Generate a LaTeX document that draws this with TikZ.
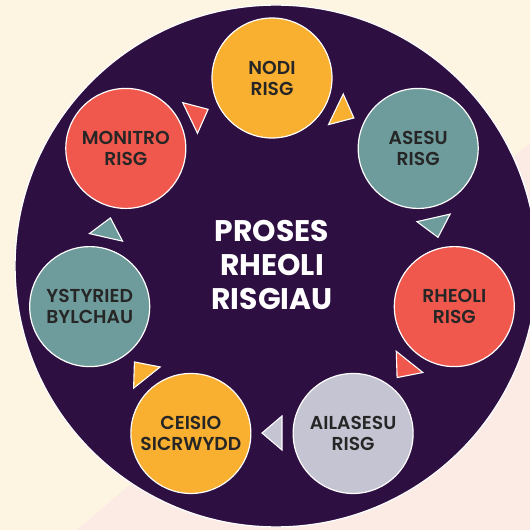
\documentclass[tikz,border=0pt]{standalone}
\usepackage{fontspec}
\setmainfont{Poppins}
\newfontfamily\stagefont{Poppins}[UprightFont=* SemiBold]
\usepackage{tikz}
\definecolor{cream}{HTML}{FDF4E1}
\definecolor{blush}{HTML}{FCEAE4}
\definecolor{plum}{HTML}{2E0F42}
\definecolor{sunflower}{HTML}{F9AF30}
\definecolor{sage}{HTML}{6E9B9C}
\definecolor{coral}{HTML}{F1584D}
\definecolor{lilac}{HTML}{C5C4D2}
\definecolor{ink}{HTML}{262626}
\tikzset{
  stage/.style={circle, draw=white, line width=1.2pt, minimum size=120pt, inner sep=0pt,
    align=center, text=ink, font=\stagefont\fontsize{18.7}{21}\selectfont},
  pointer/.style={draw=white, line width=1.1pt}
}

\begin{document}
\begin{tikzpicture}[x=1pt,y=1pt]
% \draw (-272,-265) grid (258,265);
\clip (-272,-265) rectangle (258,265);
\fill[cream] (-272,-265) rectangle (258,265);
\fill[blush] (-195,-265) -- (258,122) -- (258,-265) -- cycle;
\draw[plum, fill=plum] (4,-1) circle [radius=261];
\draw[white, line width=1.4pt] (4,-1) circle [radius=261];
\node[text=white, align=center, font=\bfseries\fontsize{29.8}{34}\selectfont] (title) at (0,0) {PROSES\\RHEOLI\\RISGIAU};
\foreach \name/\txt/\col [count=\i from 0] in {nodi/{NODI\\RISG}/sunflower, asesu/{ASESU\\RISG}/sage, rheoli/{RHEOLI\\RISG}/coral, ailasesu/{AILASESU\\RISG}/lilac, ceisio/{CEISIO\\SICRWYDD}/sunflower, ystyried/{YSTYRIED\\BYLCHAU}/sage, monitro/{MONITRO\\RISG}/coral}
  \node[stage, fill=\col] (\name) at ({90-\i*360/7}:187) {\txt};
\foreach \col [count=\i from 0] in {sunflower,sage,coral,lilac,sunflower,sage,coral} {
  \pgfmathsetmacro\ang{90-(\i+0.5)*360/7}
  \draw[pointer, fill=\col, shift={(\ang:168)}, rotate=\ang-90] (10,0) -- (-10,17) -- (-10,-17) -- cycle;
}
\end{tikzpicture}
\end{document}
